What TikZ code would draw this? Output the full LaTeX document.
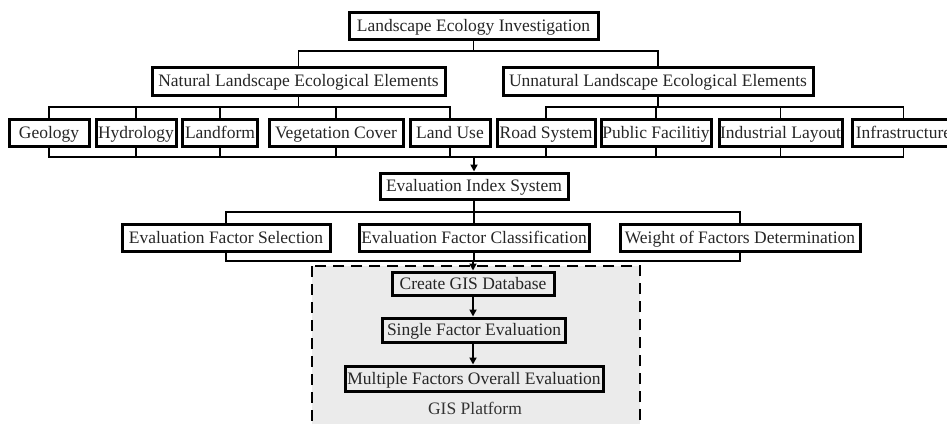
\documentclass[tikz,border=0pt]{standalone}
\usepackage{fontspec}
\setmainfont{Liberation Serif}
\usetikzlibrary{arrows.meta}
\begin{document}
\begin{tikzpicture}[x=1pt,y=-1pt,
  box/.style={draw=black,line width=3pt,inner sep=0pt,text height=13pt,text depth=2pt,font=\fontsize{17.5}{20}\selectfont,text=black!85},
  conn/.style={line width=1.9pt,black},
  arr/.style={conn,-{Triangle[length=7pt,width=7pt]}},
  platform/.style={draw=black,line width=2.8pt,dash pattern=on 11pt off 7pt,fill=black!8}]
\useasboundingbox (0,0) rectangle (947,423);
\clip (0,0) rectangle (947,423);
% GIS platform (drawn first, behind)
\draw[platform] (312,266) rectangle (640,440);
\node[font=\fontsize{17.5}{20}\selectfont,text=black!80] (gis) at (475,408) {GIS Platform};
% nodes
\node[box,minimum width=249pt,minimum height=27pt] (top) at (473.5,25.5) {Landscape Ecology Investigation};
\node[box,minimum width=293pt,minimum height=28pt] (nat) at (298.5,81) {Natural Landscape Ecological Elements};
\node[box,minimum width=310pt,minimum height=28pt] (unnat) at (658,81) {Unnatural Landscape Ecological Elements};
\node[box,minimum width=80pt,minimum height=27pt] (geo) at (49,132.5) {Geology};
\node[box,minimum width=80pt,minimum height=27pt] (hyd) at (136,132.5) {Hydrology};
\node[box,minimum width=75pt,minimum height=27pt] (lf) at (220,132.5) {Landform};
\node[box,minimum width=134pt,minimum height=27pt] (veg) at (336,132.5) {Vegetation Cover};
\node[box,minimum width=80pt,minimum height=27pt] (lu) at (450,132.5) {Land Use};
\node[box,minimum width=98pt,minimum height=27pt] (road) at (546,132.5) {Road System};
\node[box,minimum width=110pt,minimum height=27pt] (pub) at (656,132.5) {Public Facilitiy};
\node[box,minimum width=123pt,minimum height=27pt] (ind) at (780.5,132.5) {Industrial Layout};
\node[box,minimum width=102pt,minimum height=27pt] (infra) at (903.5,132.5) {Infrastructure};
\node[box,minimum width=188pt,minimum height=26pt] (idx) at (474,186) {Evaluation Index System};
\node[box,minimum width=208pt,minimum height=27pt] (sel) at (226,237.5) {Evaluation Factor Selection};
\node[box,minimum width=230pt,minimum height=27pt] (cls) at (474,237.5) {Evaluation Factor Classification};
\node[box,minimum width=240pt,minimum height=27pt] (wgt) at (740,237.5) {Weight of Factors Determination};
\node[box,fill=black!8,minimum width=162pt,minimum height=23pt] (db) at (473,283.5) {Create GIS Database};
\node[box,fill=black!8,minimum width=183pt,minimum height=24pt] (sfe) at (474,330) {Single Factor Evaluation};
\node[box,fill=black!8,minimum width=258pt,minimum height=25pt] (mfe) at (474,378.5) {Multiple Factors Overall Evaluation};
% bus coordinates
\coordinate (b1) at (473,51);
\coordinate (b2) at (473,107);
\coordinate (b3) at (473,157);
\coordinate (b4) at (473,212);
\coordinate (b5) at (473,261);
% level 1
\draw[conn] (top.south) -- (top.south |- b1);
\draw[conn] (nat.north) -- (nat.north |- b1) -- (unnat.north |- b1) -- (unnat.north);
% natural branch
\draw[conn] (nat.south) -- (nat.south |- b2);
\draw[conn] (geo.north) -- (geo.north |- b2) -- (lu.north |- b2) -- (lu.north);
\draw[conn] (hyd.north) -- (hyd.north |- b2);
\draw[conn] (lf.north) -- (lf.north |- b2);
\draw[conn] (veg.north) -- (veg.north |- b2);
% unnatural branch
\draw[conn] (unnat.south) -- (unnat.south |- b2);
\draw[conn] (road.north) -- (road.north |- b2) -- (infra.north |- b2) -- (infra.north);
\draw[conn] (pub.north) -- (pub.north |- b2);
\draw[conn] (ind.north) -- (ind.north |- b2);
% collector
\draw[conn] (geo.south) -- (geo.south |- b3) -- (infra.south |- b3) -- (infra.south);
\foreach \n in {hyd,lf,veg,lu,road,pub,ind} \draw[conn] (\n.south) -- (\n.south |- b3);
\draw[arr] (idx.north |- b3) -- (idx.north);
% evaluation level
\draw[conn] (idx.south) -- (cls.north);
\draw[conn] (sel.north) -- (sel.north |- b4) -- (wgt.north |- b4) -- (wgt.north);
\draw[conn] (sel.south) -- (sel.south |- b5) -- (wgt.south |- b5) -- (wgt.south);
\draw[conn] (cls.south) -- (cls.south |- b5);
\draw[arr] (db.north |- b5) -- (db.north);
\draw[arr] (db.south) -- (db.south |- sfe.north);
\draw[arr] (sfe.south -| db.south) -- (db.south |- mfe.north);
\end{tikzpicture}
\end{document}
